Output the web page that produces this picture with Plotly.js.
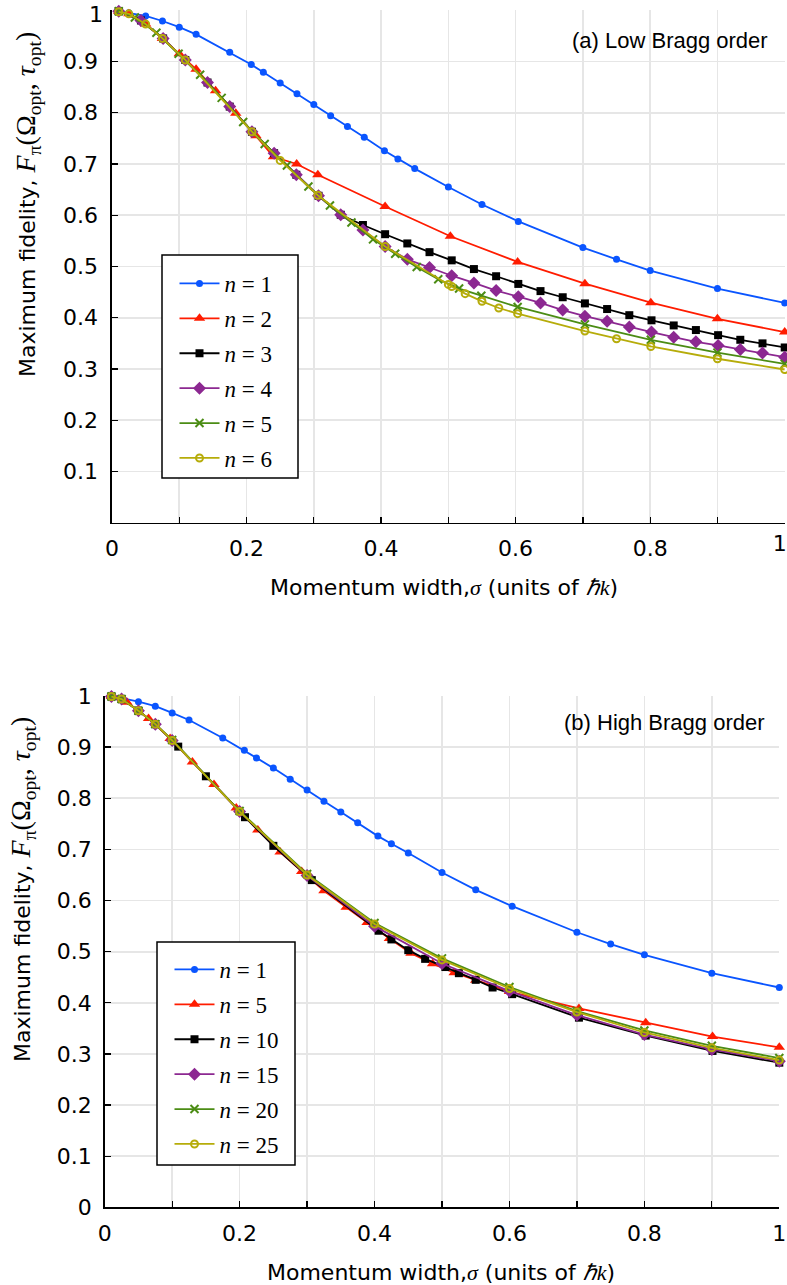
<!DOCTYPE html>
<html>
<head>
<meta charset="utf-8">
<script src="https://cdn.plot.ly/plotly-3.0.1.min.js"></script>
<style>html,body{margin:0;padding:0;background:#fff;}#chart{width:787px;height:1285px;}</style>
</head>
<body>
<div id="chart"></div>
<script>
// ---------- (a) Low Bragg order ----------
const lowLabels = ["n = 1", "n = 2", "n = 3", "n = 4", "n = 5", "n = 6"];
const sigmaN1 = [0.01,0.025,0.05,0.075,0.1,0.125,0.175,0.207,0.225,0.25,0.275,0.3,0.325,0.35,0.375,0.405,0.425,0.45,0.5,0.55,0.604,0.7,0.75,0.8,0.9,1.0];
const fidN1 = [0.998,0.995,0.989,0.979,0.967,0.953,0.918,0.894,0.879,0.858,0.837,0.816,0.794,0.773,0.752,0.726,0.710,0.691,0.655,0.621,0.588,0.537,0.514,0.492,0.457,0.429];
const sigmaN2 = [0.01,0.025,0.05,0.075,0.1,0.125,0.154,0.184,0.214,0.24,0.2745,0.306,0.406,0.503,0.603,0.703,0.801,0.9,1.0];
const fidN2 = [0.998,0.993,0.973,0.945,0.915,0.885,0.843,0.799,0.755,0.714,0.700,0.679,0.617,0.559,0.509,0.4665,0.4294,0.398,0.372];
const sigmaN3 = [0.01,0.043,0.076,0.109,0.142,0.175,0.208,0.241,0.274,0.307,0.34,0.373,0.406,0.439,0.472,0.505,0.538,0.571,0.604,0.637,0.67,0.703,0.736,0.769,0.802,0.835,0.868,0.901,0.934,0.967,1.0];
const fidN3 = [0.998,0.980,0.945,0.903,0.859,0.812,0.763,0.721,0.679,0.638,0.601,0.581,0.563,0.545,0.528,0.512,0.495,0.481,0.466,0.452,0.440,0.428,0.417,0.405,0.395,0.385,0.376,0.366,0.357,0.350,0.342];
const sigmaN4 = [0.01,0.043,0.076,0.109,0.142,0.175,0.208,0.241,0.274,0.307,0.34,0.373,0.406,0.439,0.472,0.505,0.538,0.571,0.604,0.637,0.67,0.703,0.736,0.769,0.802,0.835,0.868,0.901,0.934,0.967,1.0];
const fidN4 = [0.998,0.980,0.945,0.903,0.859,0.812,0.763,0.721,0.679,0.638,0.601,0.571,0.539,0.514,0.498,0.482,0.468,0.453,0.441,0.429,0.415,0.403,0.393,0.382,0.372,0.362,0.353,0.346,0.338,0.331,0.323];
const sigmaN5 = [0.01,0.034,0.066,0.099,0.131,0.163,0.195,0.227,0.26,0.292,0.324,0.356,0.388,0.421,0.453,0.485,0.516,0.549,0.603,0.703,0.801,0.9,1.0];
const fidN5 = [0.998,0.986,0.956,0.915,0.874,0.829,0.782,0.739,0.697,0.656,0.619,0.586,0.553,0.525,0.499,0.475,0.457,0.443,0.421,0.387,0.357,0.332,0.310];
const sigmaN6 = [0.01,0.025,0.05,0.075,0.109,0.208,0.25,0.306,0.406,0.5,0.505,0.525,0.55,0.575,0.603,0.703,0.75,0.801,0.9,1.0];
const fidN6 = [0.997,0.993,0.973,0.945,0.903,0.763,0.707,0.639,0.539,0.465,0.461,0.447,0.432,0.419,0.408,0.374,0.359,0.344,0.320,0.299];

// ---------- (b) High Bragg order ----------
const highLabels = ["n = 1", "n = 5", "n = 10", "n = 15", "n = 20", "n = 25"];
const hSigmaN1 = [0.01,0.025,0.05,0.075,0.1,0.125,0.175,0.207,0.225,0.25,0.275,0.3,0.325,0.35,0.375,0.405,0.425,0.45,0.5,0.55,0.604,0.7,0.75,0.8,0.9,1.0];
const hFidN1 = [0.999,0.996,0.989,0.980,0.967,0.953,0.918,0.894,0.879,0.859,0.837,0.816,0.794,0.773,0.752,0.726,0.711,0.693,0.655,0.621,0.589,0.538,0.515,0.494,0.458,0.430];
const hSigmaN5 = [0.01,0.033,0.065,0.097,0.13,0.162,0.195,0.227,0.26,0.292,0.325,0.358,0.389,0.422,0.454,0.486,0.518,0.55,0.6,0.703,0.802,0.901,1.0];
const hFidN5 = [0.999,0.988,0.956,0.917,0.871,0.827,0.781,0.738,0.695,0.657,0.619,0.587,0.557,0.526,0.497,0.4765,0.459,0.444,0.422,0.389,0.361,0.334,0.313];
const hSigmaN10 = [0.01,0.025,0.05,0.075,0.109,0.15,0.208,0.25,0.307,0.406,0.425,0.45,0.475,0.505,0.525,0.55,0.575,0.604,0.703,0.802,0.901,1.0];
const hFidN10 = [0.999,0.994,0.971,0.945,0.901,0.843,0.763,0.707,0.640,0.541,0.524,0.503,0.486,0.470,0.458,0.445,0.430,0.417,0.371,0.336,0.306,0.283];
const hSigmaN15 = [0.01,0.025,0.05,0.075,0.1,0.2,0.3,0.4,0.5,0.6,0.7,0.8,0.9,1.0];
const hFidN15 = [0.999,0.994,0.971,0.945,0.913,0.774,0.649,0.550,0.477,0.423,0.376,0.338,0.309,0.286];
const hSigmaN20 = [0.01,0.025,0.05,0.075,0.1,0.2,0.3,0.4,0.5,0.6,0.7,0.8,0.9,1.0];
const hFidN20 = [0.999,0.994,0.971,0.945,0.914,0.775,0.652,0.556,0.487,0.431,0.384,0.346,0.316,0.292];
const hSigmaN25 = [0.01,0.025,0.05,0.075,0.1,0.2,0.3,0.4,0.5,0.6,0.7,0.8,0.9,1.0];
const hFidN25 = [0.999,0.994,0.971,0.945,0.913,0.774,0.650,0.554,0.484,0.428,0.382,0.342,0.312,0.288];

// ---------- tick labels ----------
const xTickValsLow = [0,0.2,0.4,0.6,0.8];
const xTickTextLow = ["0","0.2","0.4","0.6","0.8"];
const xEdgeVals = [1];
const xEdgeText = ["1"];
const yTickValsLow = [0.1,0.2,0.3,0.4,0.5,0.6,0.7,0.8,0.9];
const yTickTextLow = ["0.1","0.2","0.3","0.4","0.5","0.6","0.7","0.8","0.9"];
const yEdgeVals = [1];
const yEdgeText = ["1"];
const xTickValsHigh = [0,0.2,0.4,0.6,0.8,1];
const xTickTextHigh = ["0","0.2","0.4","0.6","0.8","1"];
const yTickValsHigh = [0,0.1,0.2,0.3,0.4,0.5,0.6,0.7,0.8,0.9,1];
const yTickTextHigh = ["0","0.1","0.2","0.3","0.4","0.5","0.6","0.7","0.8","0.9","1"];

// ---------- styles ----------
const colors = ["rgb(10,85,255)","rgb(255,28,0)","rgb(0,0,0)","rgb(140,40,145)","rgb(75,140,20)","rgb(182,172,10)"];
const symbols = ["circle","triangle-up","square","diamond","x-thin-open","circle-open"];
const sizes = [7,10,8,10,8,7];
const SERIF = "Liberation Serif, DejaVu Serif, serif";
const SANS = "DejaVu Sans, Verdana, sans-serif";
const W = 787, H = 1285;
const GRID = "#e6e6e6";

function legendName(lbl){
  const parts = lbl.split(" = ");
  return "<i>" + parts[0] + "</i> = " + parts[1];
}
function mk(x, y, i, lbl, xa, ya, leg){
  return {
    type: "scatter", mode: "lines+markers", x: x, y: y,
    name: legendName(lbl), xaxis: xa, yaxis: ya, legend: leg,
    legendgroup: leg + "g" + i, cliponaxis: false,
    line: {color: colors[i], width: 1.8},
    marker: {symbol: symbols[i], size: sizes[i], color: colors[i],
             line: {color: colors[i], width: (symbols[i].indexOf("open")>=0 ? 2 : 0)}}
  };
}

const lowX = [sigmaN1, sigmaN2, sigmaN3, sigmaN4, sigmaN5, sigmaN6];
const lowY = [fidN1, fidN2, fidN3, fidN4, fidN5, fidN6];
const highX = [hSigmaN1, hSigmaN5, hSigmaN10, hSigmaN15, hSigmaN20, hSigmaN25];
const highY = [hFidN1, hFidN5, hFidN10, hFidN15, hFidN20, hFidN25];

const traces = [];
for (let i = 0; i < 6; i++) traces.push(mk(lowX[i], lowY[i], i, lowLabels[i], "x", "y", "legend"));
for (let i = 0; i < 6; i++) traces.push(mk(highX[i], highY[i], i, highLabels[i], "x2", "y2", "legend2"));
// empty carriers so the edge-label overlay axes get drawn (no data, no marks)
traces.push({type: "scatter", mode: "markers", x: [], y: [], xaxis: "x3", yaxis: "y", showlegend: false, hoverinfo: "skip"});
traces.push({type: "scatter", mode: "markers", x: [], y: [], xaxis: "x", yaxis: "y3", showlegend: false, hoverinfo: "skip"});

function axisDef(dom, anchor, tv, tt, standoff){
  return {domain: dom, anchor: anchor, range: [0,1], tickmode: "array", tickvals: tv, ticktext: tt,
    showgrid: true, gridcolor: GRID, gridwidth: 1.6, zeroline: false,
    showline: true, linecolor: "#000", linewidth: 1.6, ticks: "inside", ticklen: 6, tickcolor: "#000", tickwidth: 1.3,
    ticklabelstandoff: standoff,
    minor: {tickmode: "linear", tick0: 0, dtick: 0.1, showgrid: true, gridcolor: GRID, gridwidth: 1.6,
            ticks: "inside", ticklen: 6, tickcolor: "#000", tickwidth: 1.3},
    tickfont: {family: SANS, size: 22, color: "#000"}, automargin: false, fixedrange: true};
}
// overlay axis carrying only the edge label "1" (kept inside the page)
function edgeAxisDef(dom, over, anchor, side, tv, tt, standoff, shift){
  return {domain: dom, overlaying: over, anchor: anchor, side: side, range: [0,1], tickmode: "array", tickvals: tv, ticktext: tt,
    showgrid: false, zeroline: false, showline: false, ticks: "",
    ticklabelstandoff: standoff, ticklabelshift: shift, ticklabeloverflow: "allow",
    tickfont: {family: SANS, size: 22, color: "#000"}, automargin: false, fixedrange: true};
}

const MATH = "font-family:Liberation Serif;font-size:28px";
const yTitle = "Maximum fidelity, <span style=\"" + MATH + "\"><i>F</i><sub>π</sub>(Ω<sub>opt</sub>, <i>τ</i><sub>opt</sub>)</span>";
const xTitle = "Momentum width,<span style=\"font-family:Liberation Serif\"><i>σ</i></span> (units of <span style=\"font-family:Liberation Serif\"><i>ℏk</i></span>)";

const legendCommon = {bgcolor: "rgba(255,255,255,0)", borderwidth: 0,
  font: {family: SERIF, size: 23, color: "#000"}, tracegroupgap: 2, itemwidth: 40,
  xanchor: "left", yanchor: "top", orientation: "v"};

function box(x0, y0, x1, y1){
  return {type: "rect", xref: "paper", yref: "paper", x0: x0/W, x1: x1/W, y0: 1-y0/H, y1: 1-y1/H,
          fillcolor: "#fff", line: {color: "#000", width: 1.5}, layer: "above"};
}

const xDomLow = [112/W, 784.7/W], yDomLow = [1-522.75/H, 1-10.25/H];
const layout = {
  width: W, height: H, margin: {l: 0, r: 0, t: 0, b: 0},
  paper_bgcolor: "#fff", plot_bgcolor: "#fff", showlegend: true,
  xaxis: axisDef(xDomLow, "y", xTickValsLow, xTickTextLow, 5),
  yaxis: axisDef(yDomLow, "x", yTickValsLow, yTickTextLow, 8),
  xaxis2: axisDef([104.7/W, 779.3/W], "y2", xTickValsHigh, xTickTextHigh, 6),
  yaxis2: axisDef([1-1207.4/H, 1-696/H], "x2", yTickValsHigh, yTickTextHigh, 7),
  xaxis3: edgeAxisDef(xDomLow, "x", "y", "bottom", xEdgeVals, xEdgeText, 5, -5),
  yaxis3: edgeAxisDef(yDomLow, "y", "x", "left", yEdgeVals, yEdgeText, 8, 4),
  legend: Object.assign({}, legendCommon, {x: 174.5/W, y: 1-262/H}),
  legend2: Object.assign({}, legendCommon, {x: 169.5/W, y: 1-948/H}),
  shapes: [box(162, 255, 298, 478), box(157, 942, 295, 1165)],
  annotations: [
    {text: "(a) Low Bragg order", xref: "paper", yref: "paper", x: 770/W, y: 1-40/H, xanchor: "right", yanchor: "middle", showarrow: false, font: {family: "Liberation Sans, Arial, sans-serif", size: 22, color: "#000"}},
    {text: "(b) High Bragg order", xref: "paper", yref: "paper", x: 767/W, y: 1-722/H, xanchor: "right", yanchor: "middle", showarrow: false, font: {family: "Liberation Sans, Arial, sans-serif", size: 22, color: "#000"}},
    {text: xTitle, xref: "paper", yref: "paper", x: 444/W, y: 1-588/H, xanchor: "center", yanchor: "middle", showarrow: false, font: {family: SANS, size: 22, color: "#000"}},
    {text: xTitle, xref: "paper", yref: "paper", x: 441/W, y: 1-1272/H, xanchor: "center", yanchor: "middle", showarrow: false, font: {family: SANS, size: 22, color: "#000"}},
    {text: yTitle, xref: "paper", yref: "paper", x: 28/W, y: 1-205/H, xanchor: "center", yanchor: "middle", textangle: -90, showarrow: false, font: {family: SANS, size: 22, color: "#000"}},
    {text: yTitle, xref: "paper", yref: "paper", x: 22/W, y: 1-890/H, xanchor: "center", yanchor: "middle", textangle: -90, showarrow: false, font: {family: SANS, size: 22, color: "#000"}}
  ]
};

Plotly.newPlot("chart", traces, layout, {displayModeBar: false, staticPlot: true});
</script>
</body>
</html>
